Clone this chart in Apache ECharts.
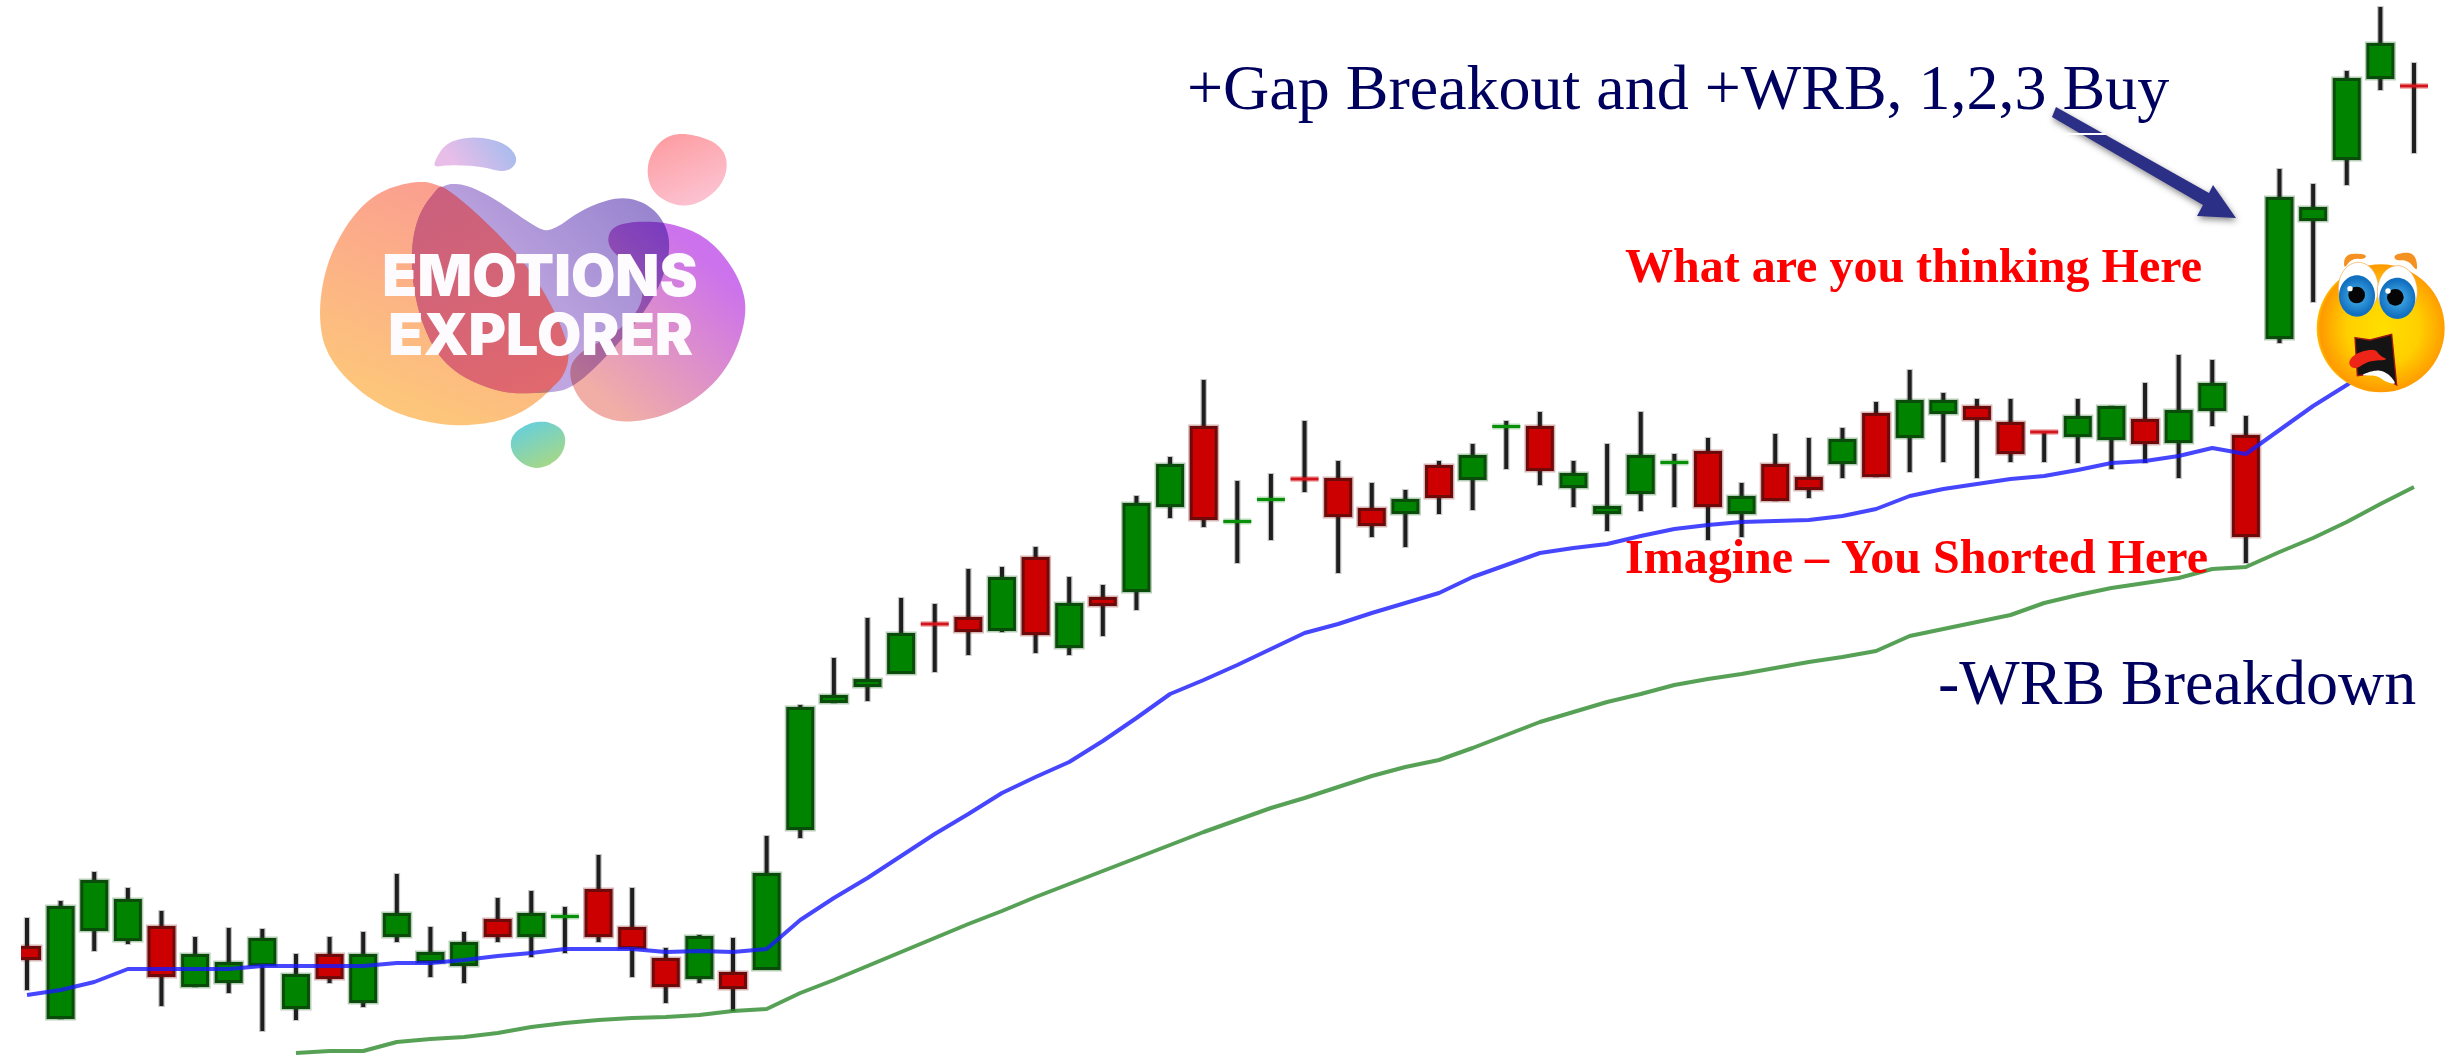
<!DOCTYPE html>
<html><head><meta charset="utf-8">
<style>html,body{margin:0;padding:0;background:#fff}#c{width:2458px;height:1059px}</style>
<script src="https://cdn.jsdelivr.net/npm/echarts@6/dist/echarts.min.js"></script>
</head><body><div id="c"></div>
<script>
const opens  = [113,40,128,118,133,72,76,93,50,105,56,122,96,93,140,122,142,170,132,101,80,87,89,229,356,372,385,435,442,428,502,411,462,467,552,633,537,559,580,581,551,545,594,579,632,633,571,545,565,596,608,545,595,582,595,646,621,645,653,637,627,622,619,640,616,648,624,720,838,899,980,973];
const closes = [99,153,179,160,82,105,97,121,85,80,105,146,107,117,122,146,142.5,122,110,72,123,70,186,352,364,380,426,434.5,427,482,424,456,453,556,595,539,537.5,559.5,579.5,542,533,560,561,604,632.5,588,586,553,604,596.5,552,563,558,569,620,582,659,659,639,605,626.5,643,653,615,649,676,522,862,852,981,1016,972.5];
const lows   = [69,40,108,115,53,72,66,28,39,76,52,117,82,76,117,102,106,117,82,56,76,48,90,221,356,358,386,387,404,427,406,404,423,449,541,532,496,519,567,486,522,512,545,549,590,574,552,528,548,552,519,522,558,561,581,582,587,597,581,597,597,596,590,596,581,633,496,716,757,874,969,906];
const highs  = [141,158,187,171,148,122,131,130,105,122,127,185,132,127,161,168,152,204,171,111,124,121,223,354,401,441,461,455,490,492,512,482,474,563,602,679,578,585,638,598,576,569,598,615,638,647,598,615,647,605,621,576,625,621,631,657,689,666,660,660,627,660,653,676,704,699,643,890,875,988,1052,996];
const maFast = [64,69,77,90,90,90,90,93,93,93,93,96,96,99,103,106,110,110,110,107,108,107,110,139,161,181,203,225,245,266,282,297,318,341,365,379,394,410,426,435,446,456,466,482,494,506,511,515,523,530,534,537,538,539,543,550,563,570,575,580,583,589,596,598,603,611,605,629,653,674,697,null];
const maSlow = [null,null,null,null,null,null,null,null,6,8,8,17,20,22,26,32,36,39,41,42,44,48,50,66,79,93,107,121,135,148,162,175,188,201,214,227,239,251,261,272,283,292,299,311,324,337,347,357,365,374,380,385,391,397,402,408,423,430,437,444,456,464,471,476,481,490,492,507,521,537,555,572];
const categories = opens.map((_, i) => String(i + 1));
const candles = opens.map((o, i) => [i, o, closes[i], lows[i], highs[i]]);

const annotations = ['+Gap Breakout and +WRB, 1,2,3 Buy', '-WRB Breakdown', 'What are you thinking Here', 'Imagine – You Shorted Here'];
const logoWords = ['EMOTIONS', 'EXPLORER'];

function sampled(pts) {
  const n = pts.length, out = [];
  const mid = (a, b) => [(a[0] + b[0]) / 2, (a[1] + b[1]) / 2];
  for (let i = 0; i < n; i++) {
    const a = mid(pts[(i + n - 1) % n], pts[i]), c = mid(pts[i], pts[(i + 1) % n]), b = pts[i];
    for (let k = 0; k < 10; k++) {
      const t = k / 10, u = 1 - t;
      out.push([u * u * a[0] + 2 * u * t * b[0] + t * t * c[0], u * u * a[1] + 2 * u * t * b[1] + t * t * c[1]]);
    }
  }
  return out;
}
const lin = (x, y, x2, y2, a, b) => ({type: 'linear', x, y, x2, y2, colorStops: [{offset: 0, color: a}, {offset: 1, color: b}]});
const rawBlob = (pts, fill, blend) => ({type: 'polygon', shape: {points: sampled(pts)}, style: {fill, blend: blend || 'source-over'}});

const logo = {
  type: 'group', x: 280, y: 110, scaleX: 1 / 3, scaleY: 1 / 3, silent: true,
  children: [
    rawBlob([[465,150],[500,95],[590,78],[680,100],[718,150],[680,190],[600,168],[500,165],[462,172]], lin(0.9,0,0.3,1,'#a6bcee','#e8bde8')),
    rawBlob([[1220,65],[1340,110],[1340,220],[1230,300],[1120,260],[1095,170],[1140,85]], lin(0.3,0,0.7,1,'#fd9ea2','#fcc4d4')),
    rawBlob([[780,925],[860,960],[850,1040],[770,1085],[695,1040],[690,970]], lin(0.3,0,0.7,1,'#66cfdc','#a8d884')),
    rawBlob([[400,210],[490,225],[630,345],[770,500],[870,700],[850,800],[760,890],[650,940],[480,950],[290,890],[140,750],[112,600],[150,420],[260,260]], lin(0.6,0,0.25,0.9,'#fb9c92','#fdc67a')),
    rawBlob([[1040,335],[1160,335],[1285,380],[1380,500],[1405,620],[1340,790],[1200,905],[1030,945],[920,900],[865,810],[880,735],[1010,670],[1095,580],[1075,480],[985,420],[985,360]], lin(0.85,0.25,0.2,0.9,'#cc72ec','#f0aea6')),
    rawBlob([[530,215],[630,255],[770,355],[815,365],[910,295],[1030,255],[1130,295],[1180,400],[1130,560],[1000,720],[880,835],[800,850],[650,850],[490,770],[415,620],[390,450],[410,320],[470,235]], lin(0.85,0.05,0.4,0.6,'#9a86d0','#c0a6e0'), 'multiply'),
    rawBlob([[470,235],[410,320],[390,450],[415,620],[490,770],[650,850],[800,850],[860,790],[870,700],[770,500],[630,345],[490,225]], lin(0.2,0,0.7,1,'#c9607e','#e0686e')),
    {type: 'text', style: {x: 780, y: 505, text: logoWords[0], fill: '#fdfbfd', font: '900 172px Inter', textAlign: 'center', textVerticalAlign: 'middle'}},
    {type: 'text', style: {x: 782, y: 682, text: logoWords[1], fill: '#fdfbfd', font: '900 172px Inter', textAlign: 'center', textVerticalAlign: 'middle'}}
  ]
};
logo.children.forEach(c => { c.z = 3; });

const soft = (pts, fill) => ({type: 'polygon', shape: {points: sampled(pts)}, style: {fill}});
const emoji = {
  type: 'group', x: 2000, y: 0, scaleX: 1 / 3, scaleY: 1 / 3, silent: true,
  children: [
    {type: 'circle', shape: {cx: 1142, cy: 985, r: 192}, style: {fill: {type: 'radial', x: 0.52, y: 0.5, r: 0.52, colorStops: [{offset: 0, color: '#ffdf00'}, {offset: 0.55, color: '#ffcf00'}, {offset: 0.95, color: '#ff9a00'}, {offset: 1, color: '#ffc000'}]}}},
    soft([[1030,810],[1035,760],[1100,762],[1095,778],[1055,775]], '#f59120'),
    soft([[1182,762],[1245,755],[1255,820],[1225,780],[1185,782]], '#f59120'),
    {type: 'ellipse', shape: {cx: 1075, cy: 865, rx: 60, ry: 78}, style: {fill: '#fff', stroke: '#f2a640', lineWidth: 2}},
    {type: 'ellipse', shape: {cx: 1192, cy: 875, rx: 60, ry: 78}, style: {fill: '#fff', stroke: '#f2a640', lineWidth: 2}},
    {type: 'ellipse', shape: {cx: 1071, cy: 888, rx: 54, ry: 62}, style: {fill: {type: 'radial', x: 0.5, y: 0.5, r: 0.5, colorStops: [{offset: 0, color: '#4db8ef'}, {offset: 1, color: '#1270c0'}]}}},
    {type: 'ellipse', shape: {cx: 1192, cy: 895, rx: 54, ry: 62}, style: {fill: {type: 'radial', x: 0.5, y: 0.5, r: 0.5, colorStops: [{offset: 0, color: '#4db8ef'}, {offset: 1, color: '#1270c0'}]}}},
    {type: 'circle', shape: {cx: 1070, cy: 885, r: 25}, style: {fill: '#050505'}},
    {type: 'circle', shape: {cx: 1186, cy: 892, r: 25}, style: {fill: '#050505'}},
    {type: 'circle', shape: {cx: 1050, cy: 866, r: 8}, style: {fill: '#fff'}},
    {type: 'circle', shape: {cx: 1164, cy: 873, r: 8}, style: {fill: '#fff'}},
    {type: 'polygon', shape: {points: [[1065,1013],[1110,1020],[1175,1003],[1190,1155],[1130,1120],[1072,1127]]}, style: {fill: '#141414', stroke: '#a01515', lineWidth: 4}},
    soft([[1075,1128],[1130,1108],[1165,1120],[1192,1155],[1155,1145],[1130,1125]], '#fff'),
    soft([[1042,1090],[1065,1060],[1125,1045],[1140,1068],[1168,1080],[1105,1082],[1065,1110]], '#ef2418')
  ]
};
emoji.children.forEach(c => { c.z = 30; });

const arrow = [
  {type: 'polygon', silent: true, z: 20, shape: {points: [[2056,107],[2209,193],[2213,185],[2236,218],[2197,216],[2203,205],[2052,117]]}, style: {fill: '#2b2f85', shadowBlur: 6, shadowColor: 'rgba(0,0,0,0.45)', shadowOffsetX: 1, shadowOffsetY: 3}},
  {type: 'rect', silent: true, z: 21, shape: {x: 2063, y: 133, width: 43, height: 2}, style: {fill: '#ffffff'}}
];
const leftEdge = {type: 'rect', silent: true, z: 12, shape: {x: 0, y: 900, width: 21, height: 159}, style: {fill: '#ffffff'}};

const label = (text, x, y, fill, font) => ({type: 'text', silent: true, z: 25, style: {x, y, text, fill, font, textVerticalAlign: 'middle'}});
const labels = [
  label(annotations[0], 1187, 92, '#00005e', '64px "Liberation Serif"'),
  label(annotations[1], 1938, 687, '#00005e', '64px "Liberation Serif"'),
  label(annotations[2], 1625, 270, '#ff0000', 'bold 48px "Liberation Serif"'),
  label(annotations[3], 1625, 561, '#ff0000', 'bold 48px "Liberation Serif"')
];

function renderCandle(params, api) {
  const i = api.value(0), o = api.value(1), c = api.value(2), l = api.value(3), h = api.value(4);
  const up = c >= o;
  const x = api.coord([i, o])[0];
  const yo = api.coord([i, o])[1], yc = api.coord([i, c])[1];
  const yl = api.coord([i, l])[1], yh = api.coord([i, h])[1];
  const top = Math.min(yo, yc), bot = Math.max(yo, yc);
  const w = 28;
  const fill = up ? '#008400' : '#cc0000';
  const dark = up ? '#0a4d0a' : '#6e0a0a';
  const children = [
    {type: 'line', shape: {x1: x, y1: yh - 1, x2: x, y2: yl + 1}, style: {stroke: 'rgba(0,0,0,0.22)', lineWidth: 6.5}},
    {type: 'line', shape: {x1: x, y1: yh, x2: x, y2: yl}, style: {stroke: '#1e1e1e', lineWidth: 4}}
  ];
  if (bot - top < 2) {
    children.push({type: 'rect', shape: {x: x - w / 2, y: top - 3, width: w, height: 6}, style: {fill: up ? 'rgba(0,130,0,0.28)' : 'rgba(210,0,0,0.28)'}});
    children.push({type: 'rect', shape: {x: x - w / 2, y: top - 1.5, width: w, height: 3}, style: {fill: up ? '#089108' : '#d4141c'}});
  } else {
    children.push({type: 'rect', shape: {x: x - w / 2 - 1.5, y: top - 1.5, width: w + 3, height: bot - top + 3}, style: {fill: up ? 'rgba(20,90,20,0.3)' : 'rgba(120,10,10,0.3)'}});
    children.push({type: 'rect', shape: {x: x - w / 2 + 1.5, y: top + 1.5, width: w - 3, height: bot - top - 3}, style: {fill, stroke: dark, lineWidth: 3}});
  }
  return {type: 'group', children};
}

const chart = echarts.init(document.getElementById('c'), null, {renderer: 'canvas'});
chart.setOption({
  animation: false,
  backgroundColor: '#ffffff',
  grid: {left: 10.2, width: 2420.6, top: 0, bottom: 0, containLabel: false},
  xAxis: {type: 'category', data: categories, boundaryGap: true, show: false},
  yAxis: {type: 'value', min: 0, max: 1059, show: false, splitLine: {show: false}},
  series: [
    {type: 'custom', name: 'Price', renderItem: renderCandle, data: candles, clip: false, z: 5, encode: {x: 0, y: [1, 2, 3, 4]}},
    {type: 'line', name: 'Fast MA', data: maFast, showSymbol: false, z: 8, lineStyle: {color: '#1818ff', width: 4, opacity: 0.8}},
    {type: 'line', name: 'Slow MA', data: maSlow, showSymbol: false, z: 8, lineStyle: {color: '#2c8a2c', width: 4, opacity: 0.8}}
  ],
  graphic: {elements: [logo, emoji, leftEdge].concat(arrow, labels)}
});
</script></body></html>
